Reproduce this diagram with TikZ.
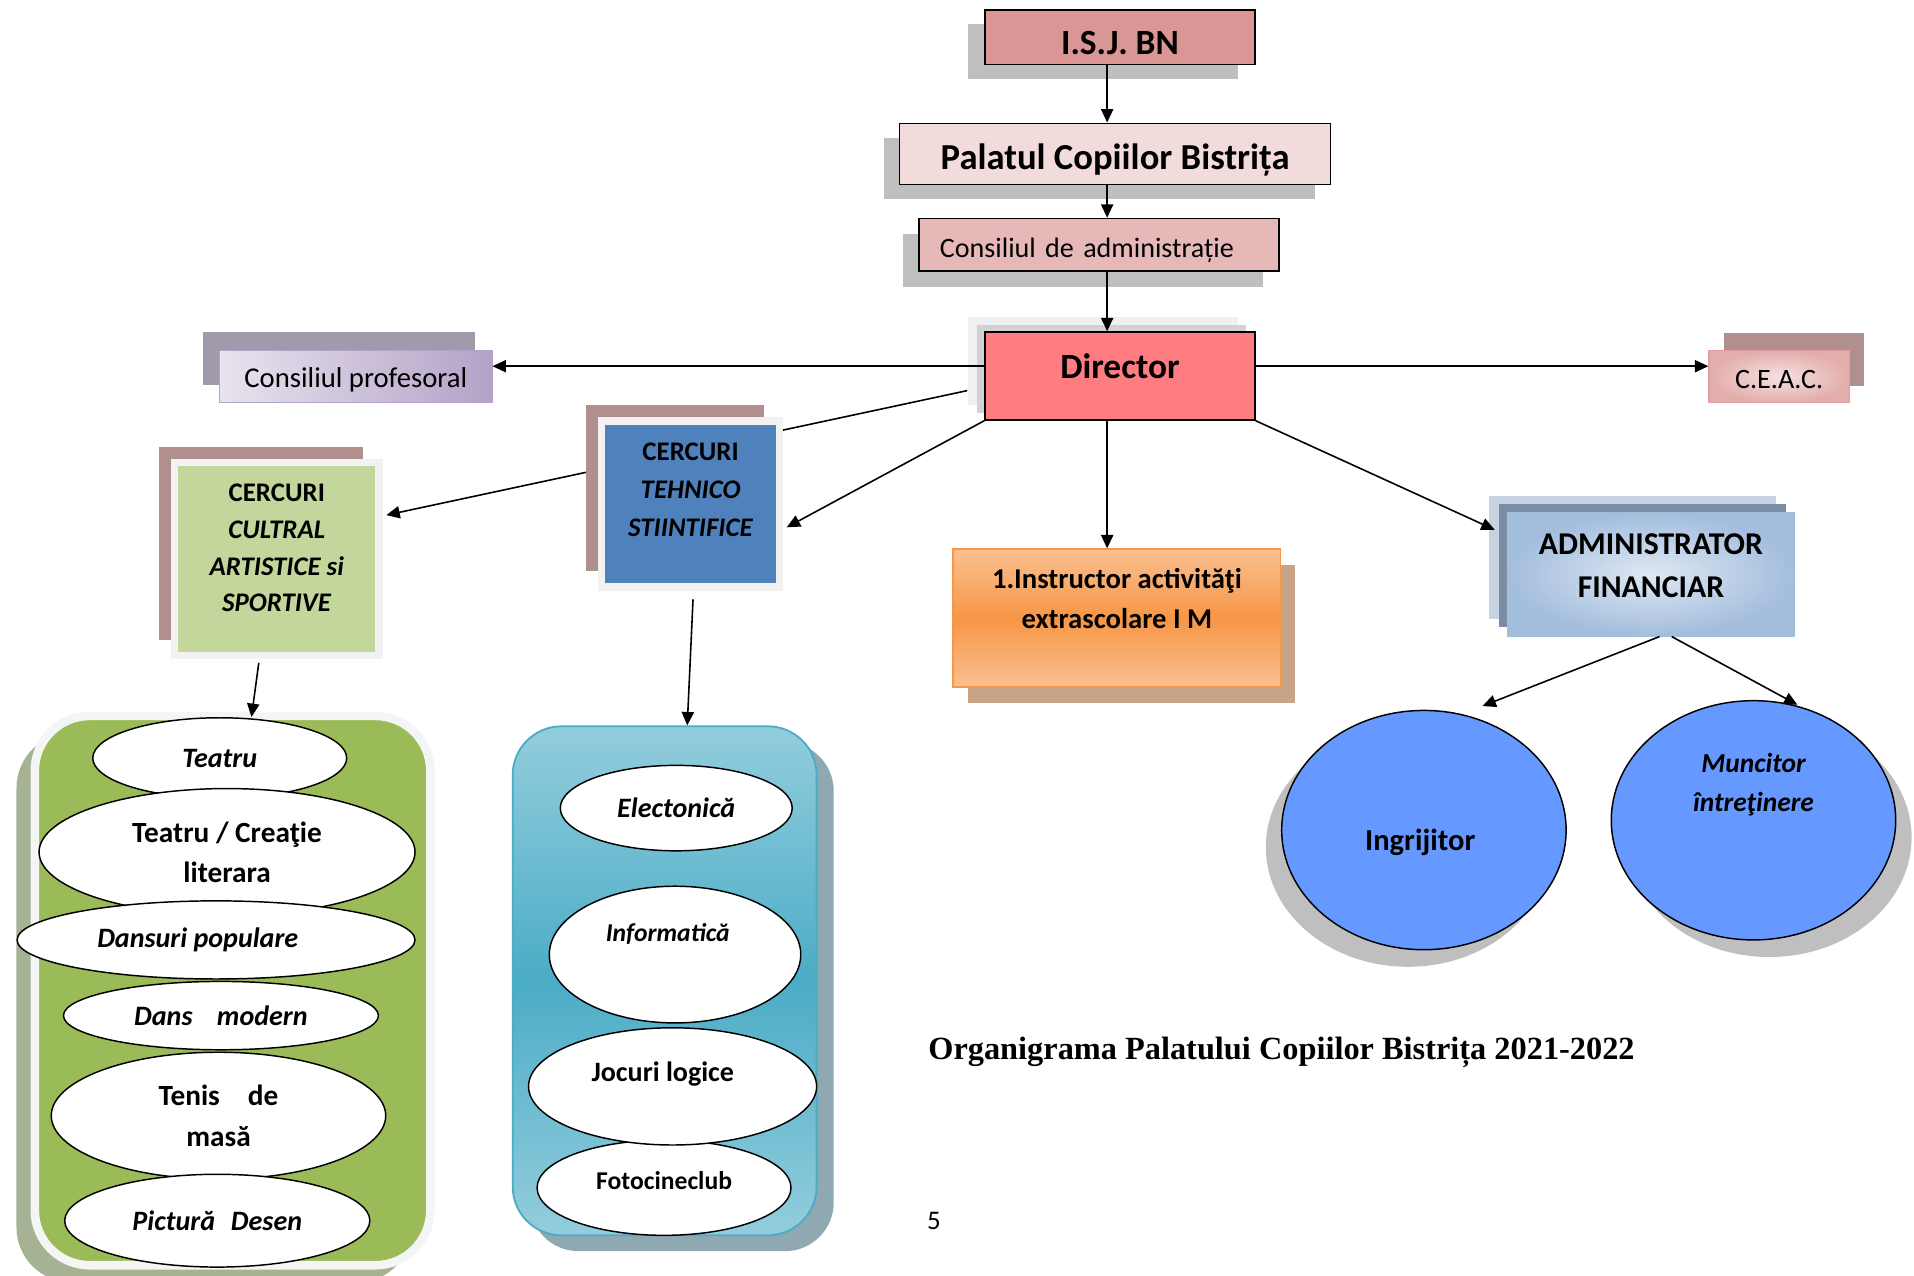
\documentclass[tikz,border=0pt]{standalone}
\usepackage{fontspec}
\setmainfont{Carlito}
\newfontfamily\titlefont{Liberation Serif}
\usetikzlibrary{positioning,shapes.geometric,shadows,arrows.meta}

\definecolor{isjRed}{HTML}{D99694}
\definecolor{palatPink}{HTML}{F2DCDB}
\definecolor{admPink}{HTML}{E6B9B8}
\definecolor{dirRed}{HTML}{FF7C80}
\definecolor{shadowGray}{HTML}{BFBFBF}
\definecolor{profLight}{HTML}{E8E3EF}
\definecolor{profDark}{HTML}{B3A2C7}
\definecolor{profShadow}{HTML}{A29AAA}
\definecolor{ceacLight}{HTML}{F4E2E1}
\definecolor{ceacDark}{HTML}{E3ADAC}
\definecolor{ceacBorder}{HTML}{E49EA0}
\definecolor{roseShadow}{HTML}{B18F8F}
\definecolor{frameGray}{HTML}{F2F2F2}
\definecolor{tehBlue}{HTML}{4F81BD}
\definecolor{cultGreen}{HTML}{C3D69B}
\definecolor{orLight}{HTML}{FAC090}
\definecolor{orDark}{HTML}{F79646}
\definecolor{orShadow}{HTML}{C9A385}
\definecolor{admLight}{HTML}{DFE8F3}
\definecolor{admDark}{HTML}{A3BDDD}
\definecolor{admMid}{HTML}{7B8CA5}
\definecolor{admBack}{HTML}{C6D3E2}
\definecolor{ovalBlue}{HTML}{6699FF}
\definecolor{boxGreen}{HTML}{9BBB59}
\definecolor{greenShadow}{HTML}{A6B294}
\definecolor{aquaLight}{HTML}{93CDDD}
\definecolor{aquaDark}{HTML}{4BACC6}
\definecolor{aquaShadow}{HTML}{8FA8B2}

\tikzset{
  box/.style={draw, rectangle, line width=1.3pt, inner sep=0pt, align=center},
  oval/.style={draw, ellipse, line width=1.2pt, fill=white, inner sep=0pt,
    font=\bfseries\itshape\fontsize{23}{32}\selectfont},
  link/.style={line width=1.3pt, -{Triangle[length=11pt,width=10pt]}},
  txt/.style={font=\bfseries\fontsize{22}{32}\selectfont, align=center}
}

\begin{document}
\begin{tikzpicture}[x=1pt,y=-1pt]
\useasboundingbox (0,0) rectangle (1568,1045);
\fill[white] (0,0) rectangle (1568,1045);
\coordinate (spine) at (907,0);
\coordinate (axis) at (0,300);

% The top chain
\node[box, fill=isjRed, minimum width=221pt, minimum height=45pt, text height=29pt, text depth=0pt,
  font=\bfseries\fontsize{29}{34}\selectfont,
  general shadow={fill=shadowGray,shadow xshift=-14pt,shadow yshift=-12pt}] (isj) at (917.5,30.5) {I.S.J. BN};
\node[box, fill=palatPink, minimum width=353pt, minimum height=50pt, text height=26pt, text depth=0pt,
  font=\bfseries\fontsize{30}{34}\selectfont,
  general shadow={fill=shadowGray,shadow xshift=-13pt,shadow yshift=-12pt}] (palat) at (913.5,126) {Palatul Copiilor Bistrița};
\node[box, fill=admPink, minimum width=295pt, minimum height=43pt, text width=261pt, align=left, inner xsep=17pt,
  text height=21pt, text depth=0pt, font=\fontsize{23}{28}\selectfont,
  general shadow={fill=shadowGray,shadow xshift=-13pt,shadow yshift=-13pt}] (consAdm) at (900.5,200.5) {Consiliul de administrație};
\node[box, fill=dirRed, minimum width=221pt, minimum height=72pt,
  general shadow={fill=gray!12,shadow xshift=-14pt,shadow yshift=12pt},
  general shadow={fill=gray!35,shadow xshift=-7pt,shadow yshift=6pt}] (director) at (917.5,308) {};
\node[font=\bfseries\fontsize{29}{34}\selectfont] (directorTxt) at ([yshift=8pt]director.center) {Director};

% The side councils
\node[box, draw=profDark, line width=1pt, left color=profLight, middle color=profLight, right color=profDark,
  minimum width=223pt, minimum height=43pt, text height=17.5pt, text depth=0pt, font=\fontsize{23.5}{28}\selectfont,
  general shadow={fill=profShadow,shadow xshift=-14pt,shadow yshift=15pt}] (prof) at (291.5,308.5) {Consiliul profesoral};
\node[box, draw=ceacBorder, line width=1pt, inner color=ceacLight, outer color=ceacDark,
  minimum width=115pt, minimum height=43pt, text height=19pt, text depth=0pt, font=\fontsize{23}{28}\selectfont,
  general shadow={fill=roseShadow,shadow xshift=12pt,shadow yshift=14pt}] (ceac) at (1457.5,308.5) {C.E.A.C.};

% The circles
\node[box, draw=frameGray, line width=6pt, fill=cultGreen, minimum width=167.5pt, minimum height=158pt,
  general shadow={fill=roseShadow,shadow xshift=-13pt,shadow yshift=13pt}] (cultral) at (226.75,458) {};
\node[txt, font=\bfseries\fontsize{22}{30}\selectfont] (cultralTxt) at ([yshift=9pt]cultral.center)
  {CERCURI\\\textit{CULTRAL}\\\textit{ARTISTICE si}\\\textit{SPORTIVE}};
\draw[link] ([xshift=-14pt,yshift=-12pt]director.west) -- ([xshift=3pt,yshift=36pt]cultral.east);
\node[box, draw=frameGray, line width=6pt, fill=tehBlue, minimum width=145.5pt, minimum height=136pt,
  general shadow={fill=roseShadow,shadow xshift=-13pt,shadow yshift=13pt}] (tehnico) at (565.75,413) {};
\node[txt, font=\bfseries\fontsize{22}{31}\selectfont] (tehnicoTxt) at ([yshift=12pt]tehnico.center)
  {CERCURI\\\textit{TEHNICO}\\\textit{STIINTIFICE}};

% Instructor and administration
\node[box, draw=orDark, line width=1.5pt, top color=orLight, bottom color=orLight, middle color=orDark,
  minimum width=268pt, minimum height=113pt,
  general shadow={fill=orShadow,shadow xshift=12pt,shadow yshift=-13pt}] (instr) at (915,506.5) {};
\node[txt, font=\bfseries\fontsize{23.5}{33}\selectfont] (instrTxt) at ([yshift=16pt]instr.center)
  {1.Instructor activităţi\\extrascolare I M};
\node[box, draw=admDark, line width=1pt, inner color=admLight, outer color=admDark,
  minimum width=235pt, minimum height=101pt,
  general shadow={fill=admBack,shadow xshift=-15pt,shadow yshift=14pt},
  general shadow={fill=admMid,shadow xshift=-7pt,shadow yshift=7pt}] (admin) at (1352.5,470.5) {};
\node[txt, font=\bfseries\fontsize{26}{35}\selectfont] (adminTxt) at ([yshift=7pt]admin.center)
  {ADMINISTRATOR\\FINANCIAR};
\node[oval, fill=ovalBlue, minimum width=233pt, minimum height=196pt,
  general shadow={fill=shadowGray,shadow xshift=-13pt,shadow yshift=-14pt}] (ingrijitor) at (1166.5,680) {};
\node[txt, font=\bfseries\fontsize{25}{30}\selectfont] (ingrijitorTxt) at ([xshift=-3pt,yshift=-10pt]ingrijitor.center) {Ingrijitor};
\node[oval, fill=ovalBlue, minimum width=233pt, minimum height=196pt,
  general shadow={fill=shadowGray,shadow xshift=13pt,shadow yshift=-14pt}] (muncitor) at (1436.5,672) {};
\node[txt, font=\bfseries\itshape\fontsize{22.5}{32}\selectfont] (muncitorTxt) at ([yshift=29pt]muncitor.center)
  {Muncitor\\întreţinere};

% The artistic group
\node[draw=white!96!black, line width=7pt, fill=boxGreen, rounded corners=45pt, inner sep=0pt,
  minimum width=324pt, minimum height=450pt,
  general shadow={fill=greenShadow,shadow xshift=-15pt,shadow yshift=-14pt}] (greenBox) at (190.5,811.5) {};
\node[oval, minimum width=208pt, minimum height=66pt] (teatru) at (180,621) {Teatru};
\node[oval, minimum width=308pt, minimum height=104pt, align=center,
  font=\bfseries\fontsize{24}{33}\selectfont] (creatie) at (186,698) {Teatru / Creaţie\\literara};
\node[oval, minimum width=326pt, minimum height=64pt] (dansuri) at (177,770) {Dansuri populare\kern30pt};
\node[oval, minimum width=258pt, minimum height=56pt] (dansModern) at (181,832) {Dans\hspace{20pt}modern};
\node[oval, minimum width=274pt, minimum height=104pt, align=center,
  font=\bfseries\fontsize{24}{33}\selectfont] (tenis) at (179,914) {Tenis\hspace{23pt}de\\masă};
\node[oval, minimum width=250pt, minimum height=76pt] (pictura) at (178,1000) {Pictură\hspace{13pt}Desen};

% The technical group
\node[draw=aquaDark, line width=1.5pt, top color=aquaLight, bottom color=aquaLight, middle color=aquaDark,
  rounded corners=40pt, inner sep=0pt, minimum width=249pt, minimum height=417pt,
  general shadow={fill=aquaShadow,shadow xshift=14pt,shadow yshift=-13pt}] (blueBox) at (544.5,803.5) {};
\node[oval, minimum width=190pt, minimum height=70pt] (electronica) at (554,662) {Electonică};
\node[oval, minimum width=206pt, minimum height=112pt] (informatica) at (553,782) {};
\node[txt, font=\bfseries\itshape\fontsize{21}{30}\selectfont] (informaticaTxt) at ([xshift=-6pt,yshift=17pt]informatica.center) {Informatică};
\node[oval, minimum width=208pt, minimum height=78pt] (foto) at (544,973) {};
\node[txt, font=\bfseries\fontsize{21}{30}\selectfont] (fotoTxt) at ([yshift=6pt]foto.center) {Fotocineclub};
\node[oval, minimum width=236pt, minimum height=96pt] (jocuri) at (551,890) {};
\node[txt, font=\bfseries\fontsize{23}{30}\selectfont] (jocuriTxt) at ([xshift=-8pt,yshift=10pt]jocuri.center) {Jocuri logice};

% Title and page number
\node[font=\titlefont\bfseries\fontsize{26.5}{30}\selectfont, anchor=west] (title) at (757,862)
  {Organigrama Palatului Copiilor Bistrița 2021-2022};
\node[font=\fontsize{22}{26}\selectfont] (pageNo) at (765,1000) {5};

% The connectors
\draw[link] (isj.south -| spine) -- (palat.north -| spine);
\draw[link] (palat.south -| spine) -- (consAdm.north -| spine);
\draw[link] (consAdm.south -| spine) -- (director.north -| spine);
\draw[link] (director.west |- axis) -- (prof.east |- axis);
\draw[link] (director.east |- axis) -- (ceac.west |- axis);
\draw[link] (director.south west) -- ([xshift=3pt,yshift=-19pt]tehnico.east);
\draw[link] (director.south -| spine) -- (instr.north -| spine);
\draw[link] (director.south east) -- ([xshift=-10pt,yshift=36.5pt]admin.west);
\draw[link] ([xshift=-14.75pt,yshift=-3pt]cultral.south) -- ([xshift=26pt]teatru.north);
\draw[link] ([xshift=2pt,yshift=-7pt]tehnico.south) -- ([xshift=18.5pt]blueBox.north);
\draw[link] ([xshift=7pt]admin.south) -- ([xshift=48pt,yshift=3pt]ingrijitor.north);
\draw[link] ([xshift=17pt]admin.south) -- ([xshift=36pt,yshift=-4pt]muncitor.north);

\end{tikzpicture}
\end{document}
